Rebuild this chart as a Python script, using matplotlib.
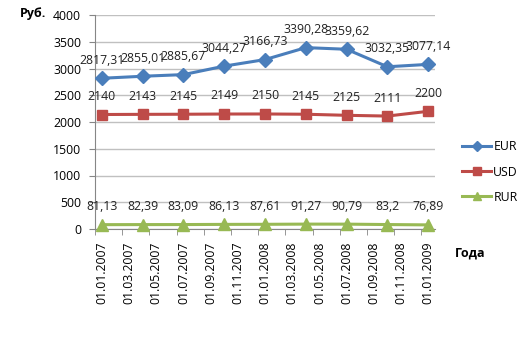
import matplotlib
matplotlib.use("Agg")
import matplotlib.pyplot as plt
from matplotlib.ticker import FixedLocator

plt.rcParams['font.family'] = ['Open Sans', 'DejaVu Sans']

# Quarterly observation dates and exchange values
dates = ["01.01.2007", "01.04.2007", "01.07.2007", "01.10.2007", "01.01.2008",
         "01.04.2008", "01.07.2008", "01.10.2008", "01.01.2009"]
eur = [2817.31, 2855.01, 2885.67, 3044.27, 3166.73, 3390.28, 3359.62, 3032.35, 3077.14]
usd = [2140, 2143, 2145, 2149, 2150, 2145, 2125, 2111, 2200]
rur = [81.13, 82.39, 83.09, 86.13, 87.61, 91.27, 90.79, 83.2, 76.89]

# Axis date labels (every two months)
tick_labels = ["01.01.2007", "01.03.2007", "01.05.2007", "01.07.2007", "01.09.2007",
               "01.11.2007", "01.01.2008", "01.03.2008", "01.05.2008", "01.07.2008",
               "01.09.2008", "01.11.2008", "01.01.2009"]


def month_index(s):
    d, m, y = s.split(".")
    return (int(y) - 2007) * 12 + int(m) - 1


x = [month_index(d) for d in dates]
xt = [month_index(d) for d in tick_labels]

fig = plt.figure(figsize=(5.22, 3.46), dpi=100)
ax = fig.add_axes([95 / 522, 1 - 229 / 346, 340 / 522, 214 / 346])

series = [
    ("EUR", eur, "#4A7EBB", "D", 6.8),
    ("USD", usd, "#BE4B48", "s", 7.5),
    ("RUR", rur, "#98B954", "^", 8.0),
]
for name, vals, col, mk, ms in series:
    ax.plot(x, vals, color=col, lw=2.2, marker=mk, markersize=ms,
            markerfacecolor=col, markeredgecolor=col, label=name, zorder=3,
            clip_on=False)
    for xi, v in zip(x, vals):
        ax.annotate(f"{v:g}".replace(".", ","), (xi, v), xytext=(0, 13),
                    textcoords="offset points", ha="center", va="center",
                    fontsize=8.8, color="#222222", zorder=4)

ax.set_xlim(-0.5, 24.5)
ax.set_ylim(0, 4000)
ax.set_yticks(range(0, 4001, 500))
ax.yaxis.grid(True, color="#C0C0C0", lw=1.0)
ax.set_axisbelow(True)

ax.set_xticks(xt)
ax.set_xticklabels(tick_labels, rotation=90, fontsize=8.8)
ax.tick_params(axis="x", length=0, pad=9)
ax.xaxis.set_minor_locator(FixedLocator([m - 0.5 for m in range(0, 26, 2)]))
ax.tick_params(axis="x", which="minor", length=4, color="#868686", direction="out")
ax.tick_params(axis="y", length=4, color="#868686", labelsize=8.8, pad=6)

for side in ["top", "right"]:
    ax.spines[side].set_visible(False)
for side in ["left", "bottom"]:
    ax.spines[side].set_color("#868686")

ax.legend(loc="center left", bbox_to_anchor=(456 / 522, 1 - 172 / 346),
          bbox_transform=fig.transFigure, frameon=False, fontsize=8.8,
          handlelength=2.4, handletextpad=0.15, labelspacing=1.0, borderpad=0,
          markerscale=0.75)

fig.text(20 / 522, 1 - 14 / 346, "Руб.", fontsize=9, fontweight="bold",
         va="center", ha="left")
fig.text(455 / 522, 1 - 253 / 346, "Года", fontsize=9, fontweight="bold",
         va="center", ha="left")

fig.savefig("out.png", dpi=100)
